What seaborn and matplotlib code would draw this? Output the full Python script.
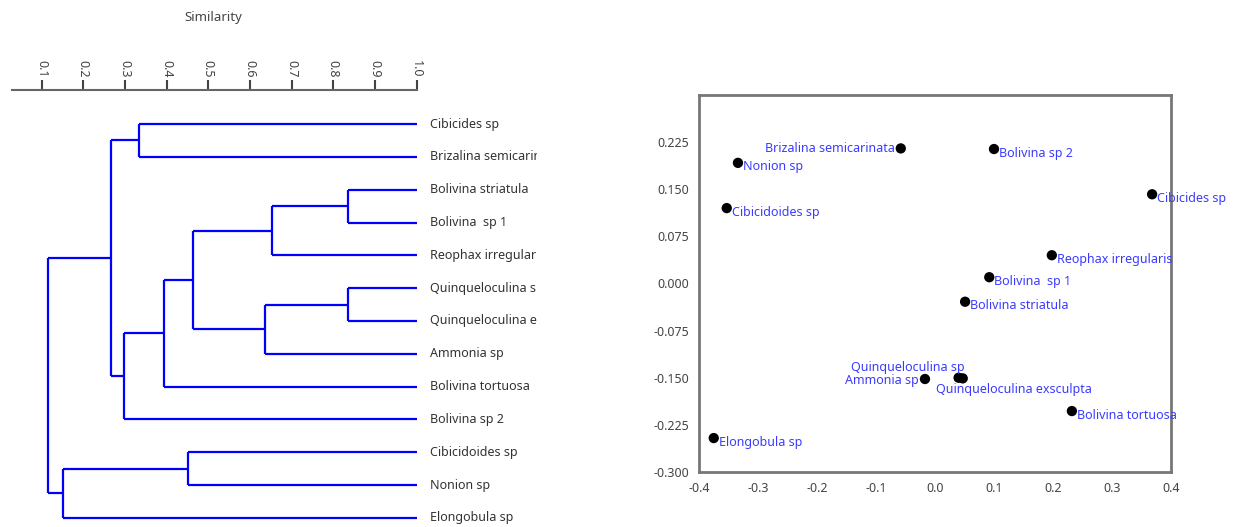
"""Cluster dendrogram (similarity) next to an ordination scatter of foraminifera taxa."""
import matplotlib
matplotlib.use('Agg')
import matplotlib.pyplot as plt
import pandas as pd
import seaborn as sns

# ======================================================================================================================
# Data
# ======================================================================================================================
LEAVES = ['Cibicides sp', 'Brizalina semicarinata', 'Bolivina striatula', 'Bolivina  sp 1', 'Reophax irregularis',
          'Quinqueloculina sp', 'Quinqueloculina exsculpta', 'Ammonia sp', 'Bolivina tortuosa', 'Bolivina sp 2',
          'Cibicidoides sp', 'Nonion sp', 'Elongobula sp']
# merges: (left child, right child, similarity); children >= 13 refer to earlier merges
MERGE_LEFT = [0, 2, 14, 5, 16, 15, 18, 19, 13, 10, 22, 21]
MERGE_RIGHT = [1, 3, 4, 6, 7, 17, 8, 9, 20, 11, 12, 23]
MERGE_SIM = [0.333, 0.836, 0.654, 0.836, 0.637, 0.464, 0.394, 0.298, 0.267, 0.452, 0.151, 0.115]
SIM_TICKS = [0.1, 0.2, 0.3, 0.4, 0.5, 0.6, 0.7, 0.8, 0.9, 1.0]

TAXA = ['Brizalina semicarinata', 'Bolivina sp 2', 'Nonion sp', 'Cibicides sp', 'Cibicidoides sp',
        'Reophax irregularis', 'Bolivina  sp 1', 'Bolivina striatula', 'Quinqueloculina sp', 'Ammonia sp',
        'Quinqueloculina exsculpta', 'Bolivina tortuosa', 'Elongobula sp']
AXIS1 = [-0.058, 0.100, -0.334, 0.368, -0.353, 0.198, 0.092, 0.051, 0.040, -0.017, 0.047, 0.232, -0.375]
AXIS2 = [0.215, 0.214, 0.192, 0.142, 0.120, 0.045, 0.010, -0.029, -0.150, -0.152, -0.151, -0.203, -0.246]
X_TICKS = [-0.4, -0.3, -0.2, -0.1, 0.0, 0.1, 0.2, 0.3, 0.4]
Y_TICKS = [-0.3, -0.225, -0.15, -0.075, 0.0, 0.075, 0.15, 0.225]

# label placement (offset in pixels, alignment)
LABEL_POS = {'Brizalina semicarinata': (-6, 0, 'right'), 'Ammonia sp': (-6, -1, 'right'),
             'Quinqueloculina sp': (6, 10, 'right'), 'Quinqueloculina exsculpta': (-27, -11, 'left')}

sns.set_style('white')
plt.rcParams['font.family'] = ['Noto Sans', 'DejaVu Sans']
plt.rcParams['font.size'] = 9

LINE_BLUE = '#0000ff'
TEXT_BLUE = '#3b3bff'
GREY = '#555555'

fig = plt.figure(figsize=(12.34, 5.27), dpi=100)

# ======================================================================================================================
# Dendrogram
# ======================================================================================================================
ax = fig.add_axes([0, 0, 537 / 1234, 437 / 527])
n = len(LEAVES)
node_y = list(range(n))
node_x = [1.0] * n
for left, right, sim in zip(MERGE_LEFT, MERGE_RIGHT, MERGE_SIM):
    for child in (left, right):
        ax.plot([sim, node_x[child]], [node_y[child], node_y[child]], color=LINE_BLUE, lw=1.6,
                solid_capstyle='butt')
    ax.plot([sim, sim], [node_y[left], node_y[right]], color=LINE_BLUE, lw=1.6, solid_capstyle='butt')
    node_y.append((node_y[left] + node_y[right]) / 2)
    node_x.append(sim)

for i, name in enumerate(LEAVES):
    ax.text(1.033, i, name, va='center', ha='left', color='#333333', fontsize=9, clip_on=True, clip_box=ax.bbox)

ax.set_xlim(0, 1.289)
ax.set_ylim(12.275, -1.036)
for side in ['left', 'right', 'bottom']:
    ax.spines[side].set_visible(False)
ax.spines['top'].set_bounds(0.029, 1.0)
ax.spines['top'].set_color('#666666')
ax.spines['top'].set_linewidth(1.5)
ax.xaxis.tick_top()
ax.set_xticks(SIM_TICKS)
ax.set_xticklabels(['%.1f' % t for t in SIM_TICKS])
ax.tick_params(axis='x', direction='out', length=7, width=1.5, color='#444444', labelrotation=270,
               labelsize=9, labelcolor='#444444', pad=2)
ax.set_yticks([])
fig.text(213 / 1234, 1 - 17 / 527, 'Similarity', ha='center', va='center', fontsize=9.5, color='#444444')

# ======================================================================================================================
# Ordination scatter
# ======================================================================================================================
scores = pd.DataFrame({'taxon': TAXA, 'axis1': AXIS1, 'axis2': AXIS2})
ax2 = fig.add_axes([699 / 1234, 55 / 527, 472 / 1234, 377 / 527])
sns.scatterplot(data=scores, x='axis1', y='axis2', color='black', s=55, edgecolor='none', ax=ax2, zorder=3)
for _, row in scores.iterrows():
    dx, dy, ha = LABEL_POS.get(row.taxon, (5, -4, 'left'))
    ax2.annotate(row.taxon, (row.axis1, row.axis2), xytext=(dx, dy), textcoords='offset pixels',
                 ha=ha, va='center', color=TEXT_BLUE, fontsize=9, annotation_clip=False)

ax2.set_xlim(-0.4, 0.4)
ax2.set_ylim(-0.3, 0.3)
ax2.set_xticks(X_TICKS)
ax2.set_xticklabels(['%.1f' % t for t in X_TICKS])
ax2.set_yticks(Y_TICKS)
ax2.set_yticklabels(['%.3f' % t for t in Y_TICKS])
ax2.set_xlabel('')
ax2.set_ylabel('')
for side in ax2.spines:
    ax2.spines[side].set_color('#777777')
    ax2.spines[side].set_linewidth(2)
ax2.tick_params(direction='out', length=5, width=1.5, color=GREY, labelsize=9, labelcolor='#444444', pad=2)

fig.savefig('out.png', dpi=100)
